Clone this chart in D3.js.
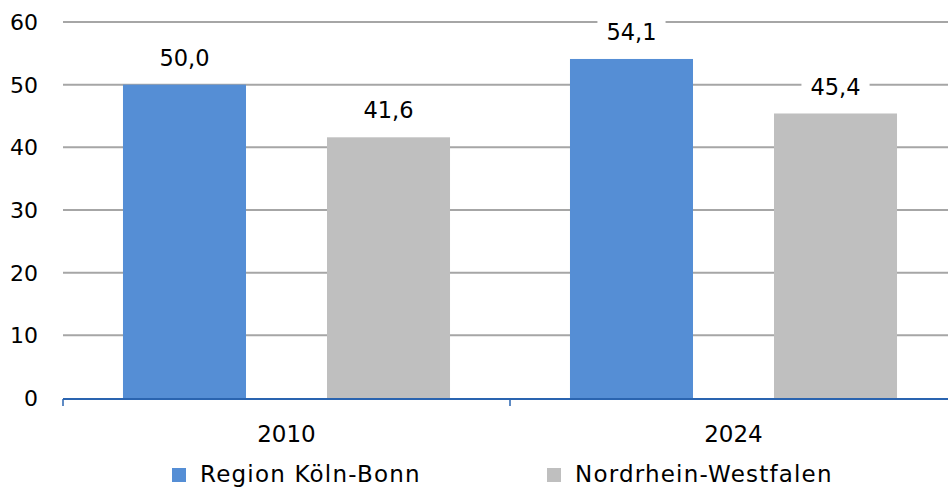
<!DOCTYPE html>
<html><head><meta charset="utf-8">
<script src="https://cdn.jsdelivr.net/npm/d3@7"></script>
<style>body{margin:0;background:#fff}svg{display:block}text{font-family:"DejaVu Sans",sans-serif;fill:#000}</style>
</head><body><svg id="c" width="948" height="488"></svg>
<script>
const categories = ["2010", "2024"];
const seriesNames = ["Region Köln-Bonn", "Nordrhein-Westfalen"];
const regionValues = [50.0, 54.1];
const nrwValues = [41.6, 45.4];
const yTicks = [0, 10, 20, 30, 40, 50, 60];
const colors = ["#558ed5", "#bfbfbf"];

const svg = d3.select("#c");
const x0 = d3.scaleBand().domain(categories).range([63, 957]).paddingInner(0).paddingOuter(0);
const x1 = d3.scaleBand().domain([0, 1]).range([0, x0.bandwidth()]).paddingInner(0.397).paddingOuter(0.294);
const y = d3.scaleLinear().domain([0, 60]).range([398, 22]);

// gridlines
svg.append("g").selectAll("line").data(yTicks.slice(1)).join("line")
  .attr("x1", 63).attr("x2", 948).attr("y1", d => y(d)).attr("y2", d => y(d))
  .attr("stroke", "#a6a6a6").attr("stroke-width", 2);

// y labels
svg.append("g").selectAll("text").data(yTicks).join("text")
  .attr("x", 38).attr("y", d => y(d)).attr("dy", "0.36em").attr("text-anchor", "end")
  .style("font-size", "22px").text(d => d);

const data = categories.map((c, i) => ({c, vals: [regionValues[i], nrwValues[i]]}));
const fmt = v => v.toFixed(1).replace(".", ",");

const g = svg.append("g").selectAll("g").data(data).join("g")
  .attr("transform", d => `translate(${x0(d.c)},0)`);
g.selectAll("rect").data(d => d.vals).join("rect")
  .attr("x", (d, i) => x1(i)).attr("width", x1.bandwidth())
  .attr("y", d => y(d)).attr("height", d => y(0) - y(d))
  .attr("fill", (d, i) => colors[i]);

// labels with white background
const lab = g.selectAll("g.lab").data(d => d.vals).join("g").attr("class", "lab");
lab.each(function(d, i) {
  const cx = x1(i) + x1.bandwidth() / 2;
  const cy = y(d) - 27;
  const s = d3.select(this);
  const t = s.append("text").attr("x", cx).attr("y", cy).attr("dy", "0.36em")
    .attr("text-anchor", "middle").style("font-size", "22.5px").text(fmt(d));
  const bb = t.node().getBBox();
  s.insert("rect", "text").attr("x", bb.x - 9).attr("y", bb.y).attr("width", bb.width + 18)
    .attr("height", bb.height).attr("fill", "#fff");
});

// x axis
svg.append("line").attr("x1", 63).attr("x2", 948).attr("y1", 399).attr("y2", 399)
  .attr("stroke", "#2a64b0").attr("stroke-width", 2);
svg.append("g").selectAll("line").data(categories).join("line")
  .attr("x1", d => x0(d)).attr("x2", d => x0(d)).attr("y1", 399).attr("y2", 406)
  .attr("stroke", "#2a64b0").attr("stroke-width", 1.5);
svg.append("g").selectAll("text").data(categories).join("text")
  .attr("x", d => x0(d) + x0.bandwidth() / 2).attr("y", 434).attr("dy", "0.36em")
  .attr("text-anchor", "middle").style("font-size", "23px").text(d => d);

// legend
const legX = [172, 547];
const lg = svg.append("g").selectAll("g").data(seriesNames).join("g")
  .attr("transform", (d, i) => `translate(${legX[i]},0)`);
lg.append("rect").attr("x", 0).attr("y", 468).attr("width", 14).attr("height", 14).attr("fill", (d, i) => colors[i]);
lg.append("text").attr("x", 28).attr("y", 474).attr("dy", "0.36em").style("font-size", "23px")
  .style("letter-spacing", "1.2px").text(d => d);
</script></body></html>
